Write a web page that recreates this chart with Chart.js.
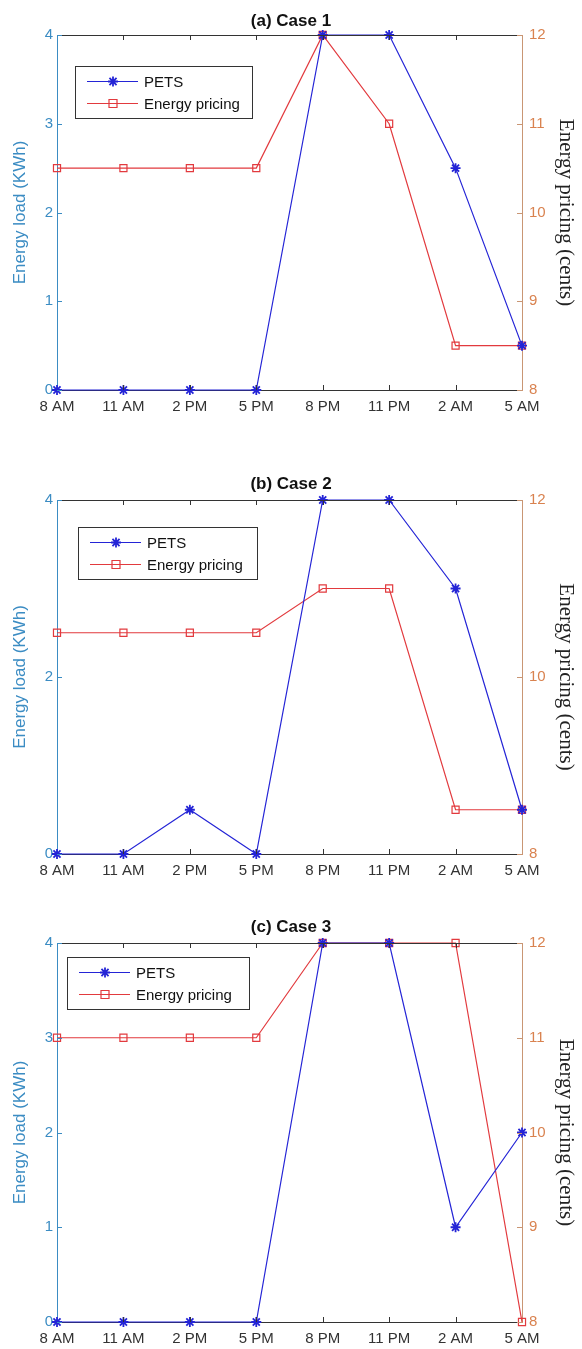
<!DOCTYPE html>
<html lang="en">
<head>
<meta charset="UTF-8">
<title>Energy load and pricing - three cases</title>
<script src="https://cdn.jsdelivr.net/npm/chart.js"></script>
<style>
  body { margin: 0; background: #fff; }
  .wrap { position: relative; width: 582px; height: 1349px; }
  canvas { position: absolute; left: 0; }
</style>
</head>
<body>
<div class="wrap">
  <canvas id="case1" width="582" height="420" style="top:0"></canvas>
  <canvas id="case2" width="582" height="450" style="top:440px"></canvas>
  <canvas id="case3" width="582" height="449" style="top:900px"></canvas>
</div>
<script>
    // hours of the day (categories)
    const hours = ['8 AM', '11 AM', '2 PM', '5 PM', '8 PM', '11 PM', '2 AM', '5 AM'];

    // energy load (KWh) and price (cents) per case
    const petsCase1  = [0, 0, 0, 0, 4, 4, 2.5, 0.5];
    const priceCase1 = [10.5, 10.5, 10.5, 10.5, 12, 11, 8.5, 8.5];
    const petsCase2  = [0, 0, 0.5, 0, 4, 4, 3, 0.5];
    const priceCase2 = [10.5, 10.5, 10.5, 10.5, 11, 11, 8.5, 8.5];
    const petsCase3  = [0, 0, 0, 0, 4, 4, 1, 2];
    const priceCase3 = [11, 11, 11, 11, 12, 12, 12, 8];

    const blue = '#2424d6';
    const red = '#e23a3e';
    const leftColor = '#3b8cc3';
    const rightLine = '#c99674';
    const rightText = '#d9824f';
    const sans = '"Liberation Sans", Arial, sans-serif';
    const serif = '"Liberation Serif", "Times New Roman", serif';

    // MATLAB style box: top border and inward tick marks
    const matlabBox = {
        id: 'matlabBox',
        afterDatasetsDraw(chart) {
            const { ctx, chartArea: a, scales } = chart;
            const seg = (x1, y1, x2, y2) => { ctx.beginPath(); ctx.moveTo(x1, y1); ctx.lineTo(x2, y2); ctx.stroke(); };
            ctx.save();
            ctx.lineWidth = 1;
            ctx.strokeStyle = '#333';
            seg(a.left, a.top + 0.5, a.right, a.top + 0.5);
            scales.x.ticks.forEach((t, i) => {
                if (i === 0 || i === scales.x.ticks.length - 1) return;
                const px = Math.round(scales.x.getPixelForTick(i)) + 0.5;
                seg(px, a.bottom, px, a.bottom - 5);
                seg(px, a.top, px, a.top + 5);
            });
            ctx.strokeStyle = leftColor;
            scales.y.ticks.forEach((t, i) => {
                const py = Math.round(scales.y.getPixelForTick(i)) + 0.5;
                seg(a.left, py, a.left + 5, py);
            });
            ctx.strokeStyle = rightLine;
            scales.y1.ticks.forEach((t, i) => {
                const py = Math.round(scales.y1.getPixelForTick(i)) + 0.5;
                seg(a.right, py, a.right - 5, py);
            });
            ctx.restore();
        }
    };

    // boxed legend inside the plot
    const boxLegend = {
        id: 'boxLegend',
        afterDraw(chart, args, opts) {
            const { ctx, chartArea: a } = chart;
            const x = Math.round(a.left + opts.x), y = Math.round(a.top + opts.y);
            ctx.save();
            ctx.fillStyle = '#fff';
            ctx.fillRect(x, y, opts.w, opts.h);
            ctx.strokeStyle = '#333';
            ctx.lineWidth = 1;
            ctx.strokeRect(x + 0.5, y + 0.5, opts.w, opts.h);
            chart.data.datasets.forEach((ds, i) => {
                const cy = y + 15.5 + i * 22;
                const mx = x + 38;
                ctx.strokeStyle = ds.borderColor;
                ctx.lineWidth = 1.2;
                ctx.beginPath(); ctx.moveTo(x + 12, cy); ctx.lineTo(x + 63, cy); ctx.stroke();
                ctx.beginPath();
                if (ds.pointStyle === 'rect') {
                    ctx.rect(mx - 4, cy - 4, 8, 8);
                } else {
                    ctx.lineWidth = 1.8;
                    for (let k = 0; k < 4; k++) {
                        const ang = k * Math.PI / 4;
                        ctx.moveTo(mx - 5 * Math.cos(ang), cy - 5 * Math.sin(ang));
                        ctx.lineTo(mx + 5 * Math.cos(ang), cy + 5 * Math.sin(ang));
                    }
                }
                ctx.stroke();
                ctx.fillStyle = '#111';
                ctx.font = '15px ' + sans;
                ctx.textBaseline = 'middle';
                ctx.fillText(ds.label, x + 69, cy + 1);
            });
            ctx.restore();
        }
    };

    function makeChart(id, title, pets, price, lay) {
        return new Chart(document.getElementById(id), {
            type: 'line',
            data: {
                labels: hours,
                datasets: [{
                    label: 'PETS',
                    data: pets,
                    yAxisID: 'y',
                    borderColor: blue,
                    backgroundColor: blue,
                    borderWidth: 1.2,
                    pointStyle: 'star',
                    pointRadius: 5,
                    pointBorderWidth: 1.8,
                    tension: 0,
                    clip: false
                }, {
                    label: 'Energy pricing',
                    data: price,
                    yAxisID: 'y1',
                    borderColor: red,
                    backgroundColor: 'rgba(0,0,0,0)',
                    borderWidth: 1.2,
                    pointStyle: 'rect',
                    pointRadius: 5,
                    pointBorderWidth: 1.2,
                    tension: 0,
                    clip: false
                }]
            },
            options: {
                responsive: false,
                animation: false,
                layout: { padding: 0 },
                plugins: {
                    legend: { display: false },
                    tooltip: { enabled: false },
                    title: {
                        display: true,
                        text: title,
                        color: '#111',
                        font: { family: sans, size: 17, weight: 'bold' },
                        padding: { top: lay.titleTop, bottom: lay.titleBottom }
                    },
                    boxLegend: lay.legend
                },
                scales: {
                    x: {
                        grid: { drawOnChartArea: false, drawTicks: false },
                        border: { color: '#333' },
                        ticks: { color: '#333', font: { family: sans, size: 15 }, padding: 8, maxRotation: 0, autoSkip: false },
                        afterFit(s) { s.height = lay.xHeight; }
                    },
                    y: {
                        position: 'left',
                        min: 0, max: 4,
                        ticks: { stepSize: lay.loadStep, color: leftColor, font: { family: sans, size: 15 }, padding: 4 },
                        grid: { drawOnChartArea: false, drawTicks: false },
                        border: { color: leftColor },
                        title: { display: true, text: 'Energy load (KWh)', color: leftColor, font: { family: sans, size: 17 }, padding: { top: 10, bottom: 0 } },
                        afterFit(s) { s.width = 57; }
                    },
                    y1: {
                        position: 'right',
                        min: 8, max: 12,
                        ticks: { stepSize: lay.priceStep, color: rightText, font: { family: sans, size: 15 }, padding: 7 },
                        grid: { drawOnChartArea: false, drawTicks: false },
                        border: { color: rightLine },
                        title: { display: true, text: 'Energy pricing (cents)', color: '#222', font: { family: serif, size: 21 }, padding: { top: 4, bottom: 0 } },
                        afterFit(s) { s.width = 60; }
                    }
                }
            },
            plugins: [matlabBox, boxLegend]
        });
    }

    makeChart('case1', '(a) Case 1', petsCase1, priceCase1, {
        titleTop: 11, titleBottom: 3.6, xHeight: 30, loadStep: 1, priceStep: 1,
        legend: { x: 18, y: 31, w: 177, h: 52 }
    });
    makeChart('case2', '(b) Case 2', petsCase2, priceCase2, {
        titleTop: 34, titleBottom: 5.6, xHeight: 36, loadStep: 2, priceStep: 2,
        legend: { x: 21, y: 27, w: 179, h: 52 }
    });
    makeChart('case3', '(c) Case 3', petsCase3, priceCase3, {
        titleTop: 17, titleBottom: 5.6, xHeight: 27, loadStep: 1, priceStep: 1,
        legend: { x: 10, y: 14, w: 182, h: 52 }
    });
</script>
</body>
</html>
